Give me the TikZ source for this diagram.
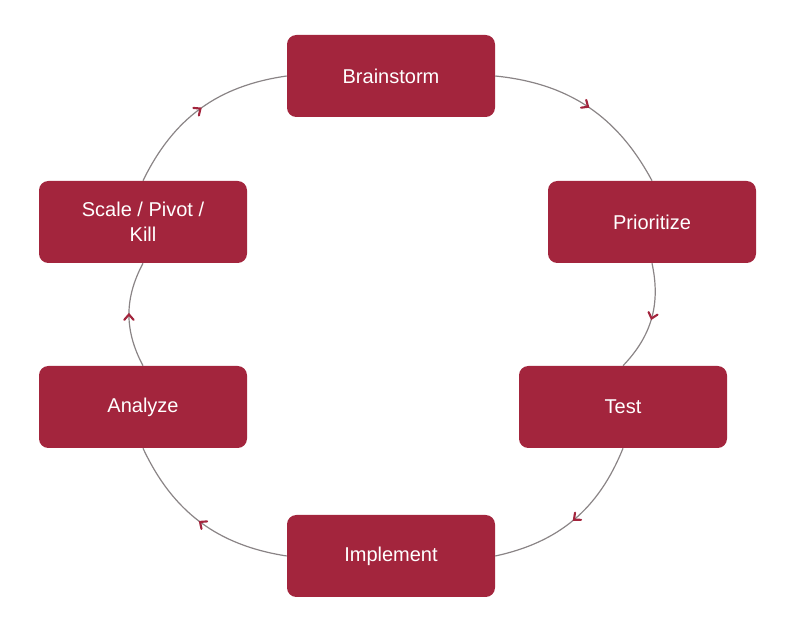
\documentclass[tikz,border=0pt]{standalone}
\usepackage{fontspec}
\setmainfont{Liberation Sans}
\usetikzlibrary{decorations.markings}
\definecolor{stepred}{HTML}{A3253D}
\definecolor{loopgray}{HTML}{8A8486}
\tikzset{
  stepbox/.style={rectangle, rounded corners=7pt, fill=stepred, text=white,
    minimum width=156pt, minimum height=61.5pt, align=center, inner sep=2pt,
    font=\fontsize{15}{19}\selectfont},
  cycleline/.style={draw=loopgray, line width=0.9pt, bend left=28,
    postaction={decorate}, decoration={markings, mark=at position 0.5 with
    {\draw[stepred, line width=1.6pt, line cap=round] (-4pt,3.5pt) -- (0,0) -- (-4pt,-3.5pt);}}}
}
\begin{document}
\begin{tikzpicture}[x=0.75pt,y=-0.75pt]
\useasboundingbox (0,0) rectangle (800,630);
\node[stepbox] (brain) at (391,76) {Brainstorm};
\node[stepbox] (prio) at (652,222) {Prioritize};
\node[stepbox] (test) at (623,407) {Test};
\node[stepbox] (impl) at (391,556) {Implement};
\node[stepbox] (anal) at (143,407) {Analyze};
\node[stepbox] (scale) at (143,222) {Scale / Pivot /\\Kill};
% loop round the steps
\path[cycleline] (brain.east) to (prio.north);
\path[cycleline] (prio.south) to (test.north);
\path[cycleline] (test.south) to (impl.east);
\path[cycleline] (impl.west) to (anal.south);
\path[cycleline] (anal.north) to (scale.south);
\path[cycleline] (scale.north) to (brain.west);
\end{tikzpicture}
\end{document}
